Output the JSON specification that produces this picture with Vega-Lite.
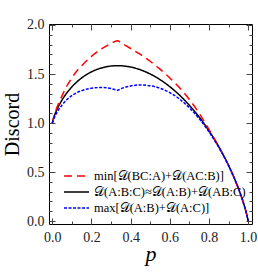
{
  "$schema": "https://vega.github.io/schema/vega-lite/v6.json",
  "width": 203,
  "height": 200,
  "autosize": "none",
  "padding": {"left": 49, "top": 24, "right": 6, "bottom": 49},
  "config": {
    "font": "Liberation Serif",
    "view": {"stroke": "#000", "strokeWidth": 1},
    "axis": {
      "grid": false,
      "domain": false,
      "ticks": true,
      "tickColor": "#444",
      "tickWidth": 1,
      "labelFont": "Liberation Serif",
      "labelFontSize": 14,
      "labelColor": "#222",
      "titleFont": "Liberation Serif",
      "titleFontWeight": "normal",
      "titleColor": "#000",
      "labelOverlap": false
    }
  },
  "datasets": {
    "curves": [
      {"p": 0, "D": 1.0, "s": "k"},
      {"p": 0.005, "D": 1.0404, "s": "k"},
      {"p": 0.01, "D": 1.0708, "s": "k"},
      {"p": 0.02, "D": 1.1214, "s": "k"},
      {"p": 0.03, "D": 1.1644, "s": "k"},
      {"p": 0.05, "D": 1.2364, "s": "k"},
      {"p": 0.075, "D": 1.3093, "s": "k"},
      {"p": 0.1, "D": 1.369, "s": "k"},
      {"p": 0.125, "D": 1.4186, "s": "k"},
      {"p": 0.15, "D": 1.4598, "s": "k"},
      {"p": 0.2, "D": 1.5219, "s": "k"},
      {"p": 0.25, "D": 1.5613, "s": "k"},
      {"p": 0.3, "D": 1.5813, "s": "k"},
      {"p": 0.3333, "D": 1.585, "s": "k"},
      {"p": 0.35, "D": 1.5841, "s": "k"},
      {"p": 0.4, "D": 1.571, "s": "k"},
      {"p": 0.45, "D": 1.5428, "s": "k"},
      {"p": 0.5, "D": 1.5, "s": "k"},
      {"p": 0.55, "D": 1.4428, "s": "k"},
      {"p": 0.6, "D": 1.371, "s": "k"},
      {"p": 0.65, "D": 1.2841, "s": "k"},
      {"p": 0.7, "D": 1.1813, "s": "k"},
      {"p": 0.75, "D": 1.0613, "s": "k"},
      {"p": 0.8, "D": 0.9219, "s": "k"},
      {"p": 0.85, "D": 0.7598, "s": "k"},
      {"p": 0.9, "D": 0.569, "s": "k"},
      {"p": 0.93, "D": 0.4359, "s": "k"},
      {"p": 0.95, "D": 0.3364, "s": "k"},
      {"p": 0.97, "D": 0.2244, "s": "k"},
      {"p": 0.98, "D": 0.1614, "s": "k"},
      {"p": 0.99, "D": 0.0908, "s": "k"},
      {"p": 0.995, "D": 0.0504, "s": "k"},
      {"p": 1.0, "D": 0.0, "s": "k"},

      {"p": 0, "D": 1.0, "s": "r"},
      {"p": 0.005, "D": 1.043, "s": "r"},
      {"p": 0.01, "D": 1.078, "s": "r"},
      {"p": 0.02, "D": 1.14, "s": "r"},
      {"p": 0.03, "D": 1.19, "s": "r"},
      {"p": 0.05, "D": 1.28, "s": "r"},
      {"p": 0.075, "D": 1.38, "s": "r"},
      {"p": 0.1, "D": 1.46, "s": "r"},
      {"p": 0.125, "D": 1.53, "s": "r"},
      {"p": 0.15, "D": 1.585, "s": "r"},
      {"p": 0.2, "D": 1.68, "s": "r"},
      {"p": 0.25, "D": 1.755, "s": "r"},
      {"p": 0.3, "D": 1.812, "s": "r"},
      {"p": 0.3333, "D": 1.84, "s": "r"},
      {"p": 0.35, "D": 1.82, "s": "r"},
      {"p": 0.4, "D": 1.76, "s": "r"},
      {"p": 0.45, "D": 1.70, "s": "r"},
      {"p": 0.5, "D": 1.63, "s": "r"},
      {"p": 0.55, "D": 1.55, "s": "r"},
      {"p": 0.6, "D": 1.46, "s": "r"},
      {"p": 0.65, "D": 1.36, "s": "r"},
      {"p": 0.7, "D": 1.24, "s": "r"},
      {"p": 0.75, "D": 1.10, "s": "r"},
      {"p": 0.8, "D": 0.935, "s": "r"},
      {"p": 0.85, "D": 0.7598, "s": "r"},
      {"p": 0.9, "D": 0.569, "s": "r"},
      {"p": 0.93, "D": 0.4359, "s": "r"},
      {"p": 0.95, "D": 0.3364, "s": "r"},
      {"p": 0.97, "D": 0.2244, "s": "r"},
      {"p": 0.98, "D": 0.1614, "s": "r"},
      {"p": 0.99, "D": 0.0908, "s": "r"},
      {"p": 0.995, "D": 0.0504, "s": "r"},
      {"p": 1.0, "D": 0.0, "s": "r"},

      {"p": 0, "D": 1.0, "s": "b"},
      {"p": 0.005, "D": 1.03, "s": "b"},
      {"p": 0.01, "D": 1.055, "s": "b"},
      {"p": 0.02, "D": 1.095, "s": "b"},
      {"p": 0.03, "D": 1.13, "s": "b"},
      {"p": 0.05, "D": 1.185, "s": "b"},
      {"p": 0.075, "D": 1.24, "s": "b"},
      {"p": 0.1, "D": 1.28, "s": "b"},
      {"p": 0.125, "D": 1.31, "s": "b"},
      {"p": 0.15, "D": 1.33, "s": "b"},
      {"p": 0.2, "D": 1.355, "s": "b"},
      {"p": 0.25, "D": 1.362, "s": "b"},
      {"p": 0.3, "D": 1.352, "s": "b"},
      {"p": 0.3333, "D": 1.335, "s": "b"},
      {"p": 0.35, "D": 1.35, "s": "b"},
      {"p": 0.4, "D": 1.378, "s": "b"},
      {"p": 0.45, "D": 1.388, "s": "b"},
      {"p": 0.5, "D": 1.38, "s": "b"},
      {"p": 0.55, "D": 1.355, "s": "b"},
      {"p": 0.6, "D": 1.31, "s": "b"},
      {"p": 0.65, "D": 1.245, "s": "b"},
      {"p": 0.7, "D": 1.155, "s": "b"},
      {"p": 0.75, "D": 1.045, "s": "b"},
      {"p": 0.8, "D": 0.91, "s": "b"},
      {"p": 0.85, "D": 0.752, "s": "b"},
      {"p": 0.9, "D": 0.566, "s": "b"},
      {"p": 0.93, "D": 0.434, "s": "b"},
      {"p": 0.95, "D": 0.335, "s": "b"},
      {"p": 0.97, "D": 0.224, "s": "b"},
      {"p": 0.98, "D": 0.161, "s": "b"},
      {"p": 0.99, "D": 0.0905, "s": "b"},
      {"p": 0.995, "D": 0.05, "s": "b"},
      {"p": 1.0, "D": 0.0, "s": "b"}
    ]
  },
  "data": {"name": "curves"},
  "layer": [
    {
      "mark": {"type": "line", "strokeWidth": 1.5, "interpolate": "monotone"},
      "encoding": {
        "x": {
          "field": "p", "type": "quantitative",
          "scale": {"domain": [-0.017, 1.02], "nice": false, "zero": false},
          "axis": {
            "orient": "bottom",
            "values": [0, 0.1, 0.2, 0.3, 0.4, 0.5, 0.6, 0.7, 0.8, 0.9, 1.0],
            "format": ".1f",
            "labelExpr": "abs(round(datum.value*10))%2==0 ? datum.label : ''",
            "offset": -3,
            "tickSize": 3,
            "labelPadding": 6.5,
            "labelFont": "Liberation Serif",
            "title": "p",
            "titleFontStyle": "italic",
            "titleFontSize": 22,
            "titlePadding": -1
          }
        },
        "y": {
          "field": "D", "type": "quantitative",
          "scale": {"domain": [-0.03, 2.01], "nice": false, "zero": false},
          "axis": {
            "orient": "left",
            "values": [0, 0.1, 0.2, 0.3, 0.4, 0.5, 0.6, 0.7, 0.8, 0.9, 1.0, 1.1, 1.2, 1.3, 1.4, 1.5, 1.6, 1.7, 1.8, 1.9, 2.0],
            "format": ".1f",
            "labelExpr": "abs(round(datum.value*10))%5==0 ? datum.label : ''",
            "offset": -3,
            "tickSize": 3,
            "labelPadding": 5,
            "labelFont": "Liberation Serif",
            "title": "Discord",
            "titleFontSize": 20,
            "titlePadding": 4
          }
        },
        "color": {
          "field": "s", "type": "nominal",
          "scale": {"domain": ["r", "k", "b"], "range": ["#ff0000", "#000000", "#0000ff"]},
          "legend": {
            "orient": "none",
            "legendX": 14,
            "legendY": 144,
            "title": null,
            "symbolType": "stroke",
            "symbolSize": 625,
            "symbolStrokeWidth": 1.5,
            "clipHeight": 16,
            "rowPadding": 0,
            "labelOffset": 4,
            "labelFont": "Liberation Serif",
            "labelFontSize": 12.5,
            "labelColor": "#000",
            "labelLimit": 300,
            "labelExpr": "datum.value=='r' ? 'min[𝒟(BC:A)+𝒟(AC:B)]' : datum.value=='k' ? '𝒟(A:B:C)≈𝒟(A:B)+𝒟(AB:C)' : 'max[𝒟(A:B)+𝒟(A:C)]'"
          }
        },
        "strokeDash": {
          "field": "s", "type": "nominal",
          "scale": {"domain": ["r", "k", "b"], "range": [[8, 5], [1, 0], [3, 1.5]]},
          "legend": null
        }
      }
    },
    {
      "mark": {"type": "line", "strokeOpacity": 0},
      "encoding": {
        "x": {
          "field": "p", "type": "quantitative",
          "scale": {"domain": [-0.017, 1.02], "nice": false, "zero": false},
          "axis": {"orient": "bottom", "values": [0, 0.2, 0.4, 0.6, 0.8, 1.0], "labels": false, "title": null, "offset": -6, "tickSize": 6}
        },
        "y": {
          "field": "D", "type": "quantitative",
          "scale": {"domain": [-0.03, 2.01], "nice": false, "zero": false},
          "axis": {"orient": "left", "values": [0, 0.5, 1.0, 1.5, 2.0], "labels": false, "title": null, "offset": -6, "tickSize": 6}
        },
        "detail": {"field": "s", "type": "nominal"}
      }
    },
    {
      "mark": {"type": "line", "strokeOpacity": 0},
      "encoding": {
        "x": {
          "field": "p", "type": "quantitative",
          "scale": {"domain": [-0.017, 1.02], "nice": false, "zero": false},
          "axis": {"orient": "top", "values": [0, 0.1, 0.2, 0.3, 0.4, 0.5, 0.6, 0.7, 0.8, 0.9, 1.0], "labels": false, "title": null, "offset": -3, "tickSize": 3}
        },
        "y": {
          "field": "D", "type": "quantitative",
          "scale": {"domain": [-0.03, 2.01], "nice": false, "zero": false},
          "axis": {"orient": "right", "values": [0, 0.1, 0.2, 0.3, 0.4, 0.5, 0.6, 0.7, 0.8, 0.9, 1.0, 1.1, 1.2, 1.3, 1.4, 1.5, 1.6, 1.7, 1.8, 1.9, 2.0], "labels": false, "title": null, "offset": -3, "tickSize": 3}
        },
        "detail": {"field": "s", "type": "nominal"}
      }
    },
    {
      "mark": {"type": "line", "strokeOpacity": 0},
      "encoding": {
        "x": {
          "field": "p", "type": "quantitative",
          "scale": {"domain": [-0.017, 1.02], "nice": false, "zero": false},
          "axis": {"orient": "top", "values": [0, 0.2, 0.4, 0.6, 0.8, 1.0], "labels": false, "title": null, "offset": -6, "tickSize": 6}
        },
        "y": {
          "field": "D", "type": "quantitative",
          "scale": {"domain": [-0.03, 2.01], "nice": false, "zero": false},
          "axis": {"orient": "right", "values": [0, 0.5, 1.0, 1.5, 2.0], "labels": false, "title": null, "offset": -6, "tickSize": 6}
        },
        "detail": {"field": "s", "type": "nominal"}
      }
    }
  ],
  "resolve": {"axis": {"x": "independent", "y": "independent"}}
}
